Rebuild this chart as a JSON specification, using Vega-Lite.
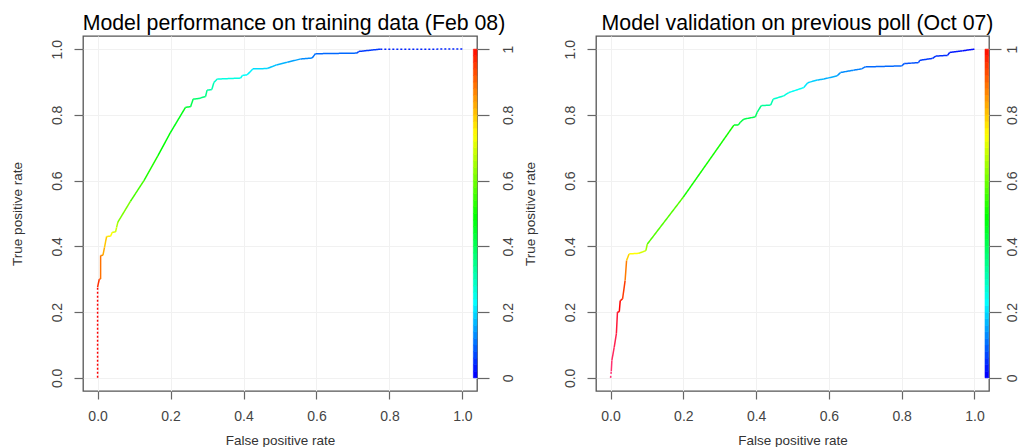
{
  "$schema": "https://vega.github.io/schema/vega-lite/v6.json",
  "background": "white",
  "padding": {"left": 9, "top": 12, "right": 0, "bottom": 0},
  "spacing": 119,
  "bounds": "flush",
  "datasets": {
    "train": [
      {"fpr": 0, "tpr": 0, "cutoff": 1.0, "kind": "extended"},
      {"fpr": 0, "tpr": 0.276, "cutoff": 0.95, "kind": "measured"},
      {"fpr": 0.0046, "tpr": 0.3, "cutoff": 0.92, "kind": "measured"},
      {"fpr": 0.0082, "tpr": 0.3005, "cutoff": 0.88, "kind": "measured"},
      {"fpr": 0.0083, "tpr": 0.372, "cutoff": 0.85, "kind": "measured"},
      {"fpr": 0.0146, "tpr": 0.373, "cutoff": 0.82, "kind": "measured"},
      {"fpr": 0.019, "tpr": 0.397, "cutoff": 0.79, "kind": "measured"},
      {"fpr": 0.0247, "tpr": 0.43, "cutoff": 0.75, "kind": "measured"},
      {"fpr": 0.0356, "tpr": 0.431, "cutoff": 0.73, "kind": "measured"},
      {"fpr": 0.0402, "tpr": 0.443, "cutoff": 0.7, "kind": "measured"},
      {"fpr": 0.0493, "tpr": 0.444, "cutoff": 0.68, "kind": "measured"},
      {"fpr": 0.0521, "tpr": 0.458, "cutoff": 0.65, "kind": "measured"},
      {"fpr": 0.0557, "tpr": 0.474, "cutoff": 0.6, "kind": "measured"},
      {"fpr": 0.09, "tpr": 0.537, "cutoff": 0.55, "kind": "measured"},
      {"fpr": 0.127, "tpr": 0.6, "cutoff": 0.51, "kind": "measured"},
      {"fpr": 0.165, "tpr": 0.675, "cutoff": 0.48, "kind": "measured"},
      {"fpr": 0.199, "tpr": 0.745, "cutoff": 0.46, "kind": "measured"},
      {"fpr": 0.241, "tpr": 0.823, "cutoff": 0.42, "kind": "measured"},
      {"fpr": 0.255, "tpr": 0.825, "cutoff": 0.4, "kind": "measured"},
      {"fpr": 0.262, "tpr": 0.848, "cutoff": 0.37, "kind": "measured"},
      {"fpr": 0.278, "tpr": 0.85, "cutoff": 0.355, "kind": "measured"},
      {"fpr": 0.296, "tpr": 0.856, "cutoff": 0.34, "kind": "measured"},
      {"fpr": 0.3, "tpr": 0.875, "cutoff": 0.31, "kind": "measured"},
      {"fpr": 0.313, "tpr": 0.877, "cutoff": 0.3, "kind": "measured"},
      {"fpr": 0.319, "tpr": 0.899, "cutoff": 0.27, "kind": "measured"},
      {"fpr": 0.328, "tpr": 0.909, "cutoff": 0.25, "kind": "measured"},
      {"fpr": 0.392, "tpr": 0.912, "cutoff": 0.23, "kind": "measured"},
      {"fpr": 0.397, "tpr": 0.92, "cutoff": 0.225, "kind": "measured"},
      {"fpr": 0.41, "tpr": 0.922, "cutoff": 0.21, "kind": "measured"},
      {"fpr": 0.426, "tpr": 0.94, "cutoff": 0.19, "kind": "measured"},
      {"fpr": 0.465, "tpr": 0.941, "cutoff": 0.17, "kind": "measured"},
      {"fpr": 0.49, "tpr": 0.952, "cutoff": 0.155, "kind": "measured"},
      {"fpr": 0.52, "tpr": 0.96, "cutoff": 0.14, "kind": "measured"},
      {"fpr": 0.556, "tpr": 0.97, "cutoff": 0.12, "kind": "measured"},
      {"fpr": 0.588, "tpr": 0.973, "cutoff": 0.1, "kind": "measured"},
      {"fpr": 0.597, "tpr": 0.986, "cutoff": 0.09, "kind": "measured"},
      {"fpr": 0.711, "tpr": 0.988, "cutoff": 0.06, "kind": "measured"},
      {"fpr": 0.716, "tpr": 0.993, "cutoff": 0.05, "kind": "measured"},
      {"fpr": 0.775, "tpr": 1.0, "cutoff": 0.03, "kind": "extended"},
      {"fpr": 1.0, "tpr": 1.0001, "cutoff": 0.0, "kind": "extended"}
    ],
    "valid": [
      {"fpr": 0, "tpr": 0, "cutoff": 1.15, "kind": "extended"},
      {"fpr": 0.002, "tpr": 0.02, "cutoff": 1.14, "kind": "measured"},
      {"fpr": 0.0036, "tpr": 0.053, "cutoff": 1.12, "kind": "measured"},
      {"fpr": 0.01, "tpr": 0.093, "cutoff": 1.1, "kind": "measured"},
      {"fpr": 0.016, "tpr": 0.134, "cutoff": 1.07, "kind": "measured"},
      {"fpr": 0.019, "tpr": 0.2, "cutoff": 1.02, "kind": "measured"},
      {"fpr": 0.024, "tpr": 0.201, "cutoff": 1.0, "kind": "measured"},
      {"fpr": 0.0266, "tpr": 0.235, "cutoff": 0.97, "kind": "measured"},
      {"fpr": 0.033, "tpr": 0.24, "cutoff": 0.94, "kind": "measured"},
      {"fpr": 0.04, "tpr": 0.296, "cutoff": 0.87, "kind": "measured"},
      {"fpr": 0.044, "tpr": 0.357, "cutoff": 0.78, "kind": "measured"},
      {"fpr": 0.051, "tpr": 0.377, "cutoff": 0.73, "kind": "measured"},
      {"fpr": 0.078, "tpr": 0.379, "cutoff": 0.69, "kind": "measured"},
      {"fpr": 0.097, "tpr": 0.387, "cutoff": 0.63, "kind": "measured"},
      {"fpr": 0.101, "tpr": 0.407, "cutoff": 0.56, "kind": "measured"},
      {"fpr": 0.2, "tpr": 0.55, "cutoff": 0.5, "kind": "measured"},
      {"fpr": 0.339, "tpr": 0.769, "cutoff": 0.44, "kind": "measured"},
      {"fpr": 0.351, "tpr": 0.7695, "cutoff": 0.42, "kind": "measured"},
      {"fpr": 0.357, "tpr": 0.778, "cutoff": 0.41, "kind": "measured"},
      {"fpr": 0.366, "tpr": 0.787, "cutoff": 0.4, "kind": "measured"},
      {"fpr": 0.398, "tpr": 0.794, "cutoff": 0.38, "kind": "measured"},
      {"fpr": 0.403, "tpr": 0.808, "cutoff": 0.35, "kind": "measured"},
      {"fpr": 0.414, "tpr": 0.828, "cutoff": 0.32, "kind": "measured"},
      {"fpr": 0.44, "tpr": 0.83, "cutoff": 0.3, "kind": "measured"},
      {"fpr": 0.447, "tpr": 0.848, "cutoff": 0.27, "kind": "measured"},
      {"fpr": 0.476, "tpr": 0.858, "cutoff": 0.25, "kind": "measured"},
      {"fpr": 0.49, "tpr": 0.868, "cutoff": 0.23, "kind": "measured"},
      {"fpr": 0.531, "tpr": 0.883, "cutoff": 0.2, "kind": "measured"},
      {"fpr": 0.542, "tpr": 0.898, "cutoff": 0.18, "kind": "measured"},
      {"fpr": 0.568, "tpr": 0.906, "cutoff": 0.16, "kind": "measured"},
      {"fpr": 0.586, "tpr": 0.909, "cutoff": 0.15, "kind": "measured"},
      {"fpr": 0.623, "tpr": 0.919, "cutoff": 0.13, "kind": "measured"},
      {"fpr": 0.632, "tpr": 0.929, "cutoff": 0.12, "kind": "measured"},
      {"fpr": 0.668, "tpr": 0.936, "cutoff": 0.11, "kind": "measured"},
      {"fpr": 0.69, "tpr": 0.94, "cutoff": 0.1, "kind": "measured"},
      {"fpr": 0.7, "tpr": 0.946, "cutoff": 0.09, "kind": "measured"},
      {"fpr": 0.8, "tpr": 0.949, "cutoff": 0.08, "kind": "measured"},
      {"fpr": 0.807, "tpr": 0.956, "cutoff": 0.07, "kind": "measured"},
      {"fpr": 0.846, "tpr": 0.959, "cutoff": 0.06, "kind": "measured"},
      {"fpr": 0.85, "tpr": 0.966, "cutoff": 0.05, "kind": "measured"},
      {"fpr": 0.885, "tpr": 0.972, "cutoff": 0.045, "kind": "measured"},
      {"fpr": 0.894, "tpr": 0.979, "cutoff": 0.04, "kind": "measured"},
      {"fpr": 0.926, "tpr": 0.981, "cutoff": 0.03, "kind": "measured"},
      {"fpr": 0.932, "tpr": 0.99, "cutoff": 0.02, "kind": "measured"},
      {"fpr": 0.967, "tpr": 0.995, "cutoff": 0.01, "kind": "measured"},
      {"fpr": 1.0, "tpr": 1.0, "cutoff": 0.0, "kind": "measured"}
    ],
    "bar": [
      {"lo": 0.00, "hi": 0.02}, {"lo": 0.02, "hi": 0.04}, {"lo": 0.04, "hi": 0.06}, {"lo": 0.06, "hi": 0.08}, {"lo": 0.08, "hi": 0.10},
      {"lo": 0.10, "hi": 0.12}, {"lo": 0.12, "hi": 0.14}, {"lo": 0.14, "hi": 0.16}, {"lo": 0.16, "hi": 0.18}, {"lo": 0.18, "hi": 0.20},
      {"lo": 0.20, "hi": 0.22}, {"lo": 0.22, "hi": 0.24}, {"lo": 0.24, "hi": 0.26}, {"lo": 0.26, "hi": 0.28}, {"lo": 0.28, "hi": 0.30},
      {"lo": 0.30, "hi": 0.32}, {"lo": 0.32, "hi": 0.34}, {"lo": 0.34, "hi": 0.36}, {"lo": 0.36, "hi": 0.38}, {"lo": 0.38, "hi": 0.40},
      {"lo": 0.40, "hi": 0.42}, {"lo": 0.42, "hi": 0.44}, {"lo": 0.44, "hi": 0.46}, {"lo": 0.46, "hi": 0.48}, {"lo": 0.48, "hi": 0.50},
      {"lo": 0.50, "hi": 0.52}, {"lo": 0.52, "hi": 0.54}, {"lo": 0.54, "hi": 0.56}, {"lo": 0.56, "hi": 0.58}, {"lo": 0.58, "hi": 0.60},
      {"lo": 0.60, "hi": 0.62}, {"lo": 0.62, "hi": 0.64}, {"lo": 0.64, "hi": 0.66}, {"lo": 0.66, "hi": 0.68}, {"lo": 0.68, "hi": 0.70},
      {"lo": 0.70, "hi": 0.72}, {"lo": 0.72, "hi": 0.74}, {"lo": 0.74, "hi": 0.76}, {"lo": 0.76, "hi": 0.78}, {"lo": 0.78, "hi": 0.80},
      {"lo": 0.80, "hi": 0.82}, {"lo": 0.82, "hi": 0.84}, {"lo": 0.84, "hi": 0.86}, {"lo": 0.86, "hi": 0.88}, {"lo": 0.88, "hi": 0.90},
      {"lo": 0.90, "hi": 0.92}, {"lo": 0.92, "hi": 0.94}, {"lo": 0.94, "hi": 0.96}, {"lo": 0.96, "hi": 0.98}, {"lo": 0.98, "hi": 1.00}
    ]
  },
  "hconcat": [
    {
      "title": {"text": "Model performance on training data (Feb 08)", "dx": 14},
      "width": 394,
      "height": 355,
      "layer": [
        {
          "data": {"name": "train"},
          "transform": [
            {"window": [{"op": "lead", "field": "fpr", "as": "fpr2"}, {"op": "lead", "field": "tpr", "as": "tpr2"}], "sort": [{"field": "fpr", "order": "ascending"}, {"field": "tpr", "order": "ascending"}], "frame": [null, null]},
            {"filter": "isValid(datum.fpr2)"}
          ],
          "mark": {"type": "rule", "strokeWidth": 1.5},
          "encoding": {
            "x": {"field": "fpr", "type": "quantitative", "scale": {"domain": [-0.04, 1.04], "nice": false, "zero": false},
                  "axis": {"values": [0, 0.2, 0.4, 0.6, 0.8, 1], "format": ".1f", "title": "False positive rate", "tickSize": 8, "labelPadding": 10, "titlePadding": 10}},
            "x2": {"field": "fpr2"},
            "y": {"field": "tpr", "type": "quantitative", "scale": {"domain": [-0.04, 1.04], "nice": false, "zero": false},
                  "axis": {"values": [0, 0.2, 0.4, 0.6, 0.8, 1], "format": ".1f", "title": "True positive rate", "labelAngle": -90, "tickSize": 9, "labelPadding": 10, "titlePadding": 26}},
            "y2": {"field": "tpr2"},
            "color": {"field": "cutoff", "type": "quantitative", "legend": null,
                      "scale": {"domain": [0, 0.22, 0.48, 0.73, 1, 1.15], "range": ["#0000ff", "#00ffff", "#00ff00", "#ffff00", "#ff0000", "#ff3377"], "interpolate": "rgb"}},
            "strokeDash": {"field": "kind", "type": "nominal", "legend": null, "scale": {"domain": ["measured", "extended"], "range": [[1, 0], [2, 2]]}}
          }
        },
        {
          "data": {"name": "bar"},
          "mark": {"type": "rect", "strokeWidth": 0.6},
          "encoding": {
            "x": {"datum": 1.03, "type": "quantitative"},
            "x2": {"datum": 1.04},
            "y": {"field": "lo", "type": "quantitative", "scale": {"domain": [-0.04, 1.04], "nice": false, "zero": false},
                  "axis": {"orient": "right", "values": [0, 0.2, 0.4, 0.6, 0.8, 1], "format": "~g", "title": null, "grid": false, "labelAngle": -90, "tickSize": 12, "labelPadding": 12}},
            "y2": {"field": "hi"},
            "color": {"field": "lo", "type": "quantitative", "legend": null,
                      "scale": {"domain": [0, 0.22, 0.48, 0.73, 1, 1.15], "range": ["#0000ff", "#00ffff", "#00ff00", "#ffff00", "#ff0000", "#ff3377"], "interpolate": "rgb"}},
            "stroke": {"field": "lo", "type": "quantitative", "legend": null,
                      "scale": {"domain": [0, 0.22, 0.48, 0.73, 1, 1.15], "range": ["#0000ff", "#00ffff", "#00ff00", "#ffff00", "#ff0000", "#ff3377"], "interpolate": "rgb"}}
          }
        }
      ],
      "resolve": {"scale": {"y": "independent"}, "axis": {"y": "independent"}}
    },
    {
      "title": {"text": "Model validation on previous poll (Oct 07)", "dx": 5},
      "width": 393,
      "height": 355,
      "layer": [
        {
          "data": {"name": "valid"},
          "transform": [
            {"window": [{"op": "lead", "field": "fpr", "as": "fpr2"}, {"op": "lead", "field": "tpr", "as": "tpr2"}], "sort": [{"field": "fpr", "order": "ascending"}, {"field": "tpr", "order": "ascending"}], "frame": [null, null]},
            {"filter": "isValid(datum.fpr2)"}
          ],
          "mark": {"type": "rule", "strokeWidth": 1.5},
          "encoding": {
            "x": {"field": "fpr", "type": "quantitative", "scale": {"domain": [-0.04, 1.04], "nice": false, "zero": false},
                  "axis": {"values": [0, 0.2, 0.4, 0.6, 0.8, 1], "format": ".1f", "title": "False positive rate", "tickSize": 8, "labelPadding": 10, "titlePadding": 10}},
            "x2": {"field": "fpr2"},
            "y": {"field": "tpr", "type": "quantitative", "scale": {"domain": [-0.04, 1.04], "nice": false, "zero": false},
                  "axis": {"values": [0, 0.2, 0.4, 0.6, 0.8, 1], "format": ".1f", "title": "True positive rate", "labelAngle": -90, "tickSize": 9, "labelPadding": 10, "titlePadding": 26}},
            "y2": {"field": "tpr2"},
            "color": {"field": "cutoff", "type": "quantitative", "legend": null,
                      "scale": {"domain": [0, 0.22, 0.48, 0.73, 1, 1.15], "range": ["#0000ff", "#00ffff", "#00ff00", "#ffff00", "#ff0000", "#ff3377"], "interpolate": "rgb"}},
            "strokeDash": {"field": "kind", "type": "nominal", "legend": null, "scale": {"domain": ["measured", "extended"], "range": [[1, 0], [2, 2]]}}
          }
        },
        {
          "data": {"name": "bar"},
          "mark": {"type": "rect", "strokeWidth": 0.6},
          "encoding": {
            "x": {"datum": 1.029, "type": "quantitative"},
            "x2": {"datum": 1.039},
            "y": {"field": "lo", "type": "quantitative", "scale": {"domain": [-0.04, 1.04], "nice": false, "zero": false},
                  "axis": {"orient": "right", "values": [0, 0.2, 0.4, 0.6, 0.8, 1], "format": "~g", "title": null, "grid": false, "labelAngle": -90, "tickSize": 12, "labelPadding": 4}},
            "y2": {"field": "hi"},
            "color": {"field": "lo", "type": "quantitative", "legend": null,
                      "scale": {"domain": [0, 0.22, 0.48, 0.73, 1, 1.15], "range": ["#0000ff", "#00ffff", "#00ff00", "#ffff00", "#ff0000", "#ff3377"], "interpolate": "rgb"}},
            "stroke": {"field": "lo", "type": "quantitative", "legend": null,
                      "scale": {"domain": [0, 0.22, 0.48, 0.73, 1, 1.15], "range": ["#0000ff", "#00ffff", "#00ff00", "#ffff00", "#ff0000", "#ff3377"], "interpolate": "rgb"}}
          }
        }
      ],
      "resolve": {"scale": {"y": "independent"}, "axis": {"y": "independent"}}
    }
  ],
  "config": {
    "font": "Liberation Sans",
    "view": {"stroke": "#555555", "strokeWidth": 1.3},
    "axis": {
      "domain": false,
      "tickColor": "#666666",
      "tickWidth": 1.2,
      "labelColor": "#444444",
      "labelFontSize": 14,
      "labelFont": "Liberation Sans",
      "titleColor": "#333333",
      "titleFontSize": 13.5,
      "titleFont": "Liberation Sans",
      "titleFontWeight": "normal",
      "grid": true,
      "gridColor": "#f1f1f1",
      "gridWidth": 1
    },
    "title": {"fontSize": 21.3, "fontWeight": "normal", "color": "#000000", "font": "Liberation Sans", "offset": 2}
  }
}
